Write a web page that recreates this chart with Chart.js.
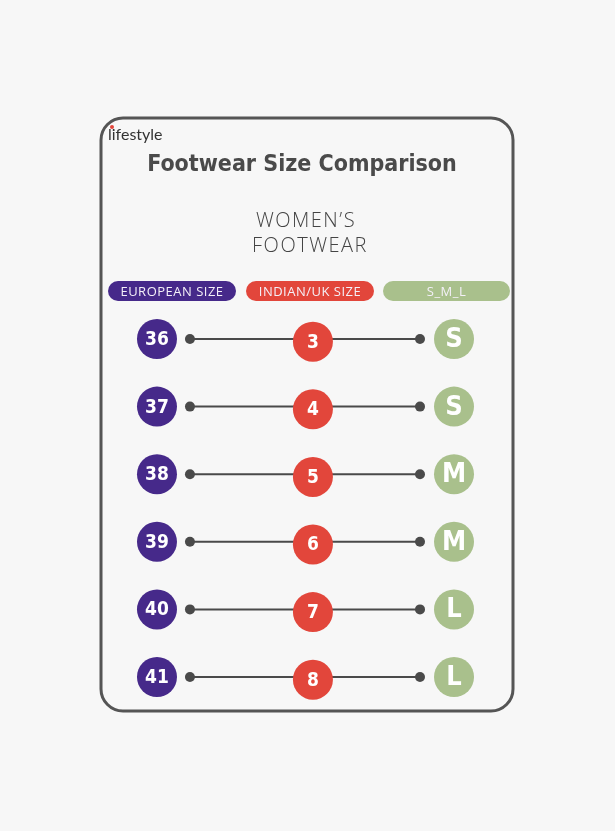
<!DOCTYPE html>
<html>
<head>
<meta charset="utf-8">
<script src="https://cdn.jsdelivr.net/npm/chart.js@4"></script>
<style>
  html, body { margin: 0; padding: 0; background: #f7f7f7; }
  #wrap { width: 615px; height: 831px; }
</style>
</head>
<body>
<div id="wrap"><canvas id="chart-size"></canvas></div>
<script>
const columns = ["EUROPEAN SIZE", "INDIAN/UK SIZE", "S_M_L"];
const european = ["36", "37", "38", "39", "40", "41"];
const indianUk = ["3", "4", "5", "6", "7", "8"];
const sml = ["S", "S", "M", "M", "L", "L"];
const colColors = ["#46298a", "#e2463b", "#a9c08c"];

// one row per size, column index on x, row index on y
const rowPoints = (labels, col, dy) => labels.map((l, i) => ({ x: col, y: i + dy, label: l }));

const circleSet = (labels, col, dy, color) => ({
    type: "scatter",
    data: rowPoints(labels, col, dy),
    pointRadius: 20,
    pointHoverRadius: 20,
    pointBackgroundColor: color,
    pointBorderWidth: 0,
    order: 0
});

// connector lines between the outer circles
const connectors = european.map((_, i) => ({
    type: "line",
    data: [{ x: 0.222, y: i }, { x: 1.771, y: i }],
    borderColor: "#4a4a4a",
    borderWidth: 2,
    pointRadius: 5,
    pointBackgroundColor: "#4a4a4a",
    pointBorderWidth: 0,
    order: 2
}));

const decor = {
    id: "decor",
    beforeDatasetsDraw(chart) {
        const ctx = chart.ctx;
        ctx.save();
        // frame
        ctx.strokeStyle = "#555";
        ctx.lineWidth = 3;
        ctx.beginPath();
        ctx.roundRect(101, 118, 412, 593, 22);
        ctx.stroke();

        ctx.fillStyle = "#333";
        ctx.font = "16px Lato";
        ctx.textAlign = "left";
        ctx.textBaseline = "middle";
        ctx.fillText("lifestyle", 108, 135);
        ctx.fillStyle = "#e2463b";
        ctx.beginPath(); ctx.arc(112, 127, 2, 0, Math.PI * 2); ctx.fill();

        ctx.textAlign = "center";
        ctx.fillStyle = "#4a4a4a";
        ctx.font = "bold 23px 'DejaVu Sans Condensed'";
        ctx.fillText("Footwear Size Comparison", 302, 165);
        ctx.font = "300 20px 'Open Sans'";
        ctx.fillStyle = "#444";
        ctx.letterSpacing = "1.5px";
        ctx.fillText("WOMEN\u2019S", 306, 221);
        ctx.fillText("FOOTWEAR", 310, 246);
        ctx.letterSpacing = "0.5px";

        const pills = [[108, 128], [246, 128], [383, 127]];
        pills.forEach(([x, w], i) => {
            ctx.fillStyle = colColors[i];
            ctx.beginPath();
            ctx.roundRect(x, 281, w, 20, 10);
            ctx.fill();
            ctx.fillStyle = "#f4f0f8";
            ctx.font = "13px 'Open Sans'";
            ctx.fillText(columns[i], x + w / 2, 292);
        });
        ctx.restore();
    },
    afterDatasetsDraw(chart) {
        const ctx = chart.ctx;
        ctx.save();
        ctx.textAlign = "center";
        ctx.textBaseline = "middle";
        ctx.fillStyle = "#fff";
        chart.data.datasets.forEach((ds, di) => {
            if (ds.type !== "scatter") return;
            const meta = chart.getDatasetMeta(di);
            meta.data.forEach((pt, i) => {
                const lbl = ds.data[i].label;
                ctx.font = /[A-Z]/.test(lbl) ? "bold 27px 'DejaVu Sans Condensed'" : "bold 19px 'DejaVu Sans Condensed'";
                ctx.fillText(lbl, pt.x, pt.y + 1);
            });
        });
        ctx.restore();
    }
};

new Chart("chart-size", {
    data: {
        datasets: [
            circleSet(european, 0, 0, colColors[0]),
            circleSet(indianUk, 1.05, 0.04, colColors[1]),
            circleSet(sml, 2, 0, colColors[2]),
            ...connectors
        ]
    },
    options: {
        responsive: true,
        maintainAspectRatio: false,
        animation: false,
        events: [],
        layout: { padding: 0, autoPadding: false },
        scales: {
            x: { type: "linear", display: false, min: -1.057, max: 3.084 },
            y: { type: "linear", display: false, reverse: true, min: -5.015, max: 7.278 }
        },
        plugins: { legend: false, tooltip: { enabled: false } }
    },
    plugins: [decor]
});
</script>
</body>
</html>
